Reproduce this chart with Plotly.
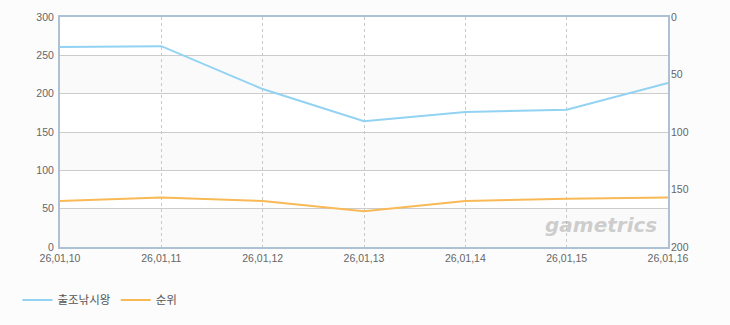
import plotly.graph_objects as go

dates = ["26,01,10", "26,01,11", "26,01,12", "26,01,13", "26,01,14", "26,01,15", "26,01,16"]
players = [261, 262, 206, 164, 176, 179, 214]
rank = [160, 157, 160, 169, 160, 158, 157]

left_ticks = [0, 50, 100, 150, 200, 250, 300]
right_ticks = [0, 50, 100, 150, 200]

fig = go.Figure()
fig.add_trace(go.Scatter(x=dates, y=players, name="출조낚시왕", mode="lines",
                         line=dict(color="#92d2f2", width=2), yaxis="y"))
fig.add_trace(go.Scatter(x=dates, y=rank, name="순위", mode="lines",
                         line=dict(color="#f9b956", width=2), yaxis="y2"))

# alternating background bands
for i in range(len(left_ticks) - 1):
    if i % 2 == 0:
        fig.add_shape(type="rect", xref="paper", yref="y", x0=0, x1=1,
                      y0=left_ticks[i], y1=left_ticks[i + 1],
                      fillcolor="#fafafa", line_width=0, layer="below")

fig.add_annotation(text="<b><i>gametrics</i></b>", xref="paper", yref="paper",
                   x=0.985, y=0.035, xanchor="right", yanchor="bottom", showarrow=False,
                   font=dict(family="DejaVu Sans", size=20, color="rgba(160,160,160,0.5)"))

tick_font = dict(family="Liberation Sans", size=10.5, color="#666666")
fig.update_layout(
    width=730, height=325,
    margin=dict(l=60, r=62, t=17, b=77),
    paper_bgcolor="#fcfcfc", plot_bgcolor="#ffffff",
    showlegend=True,
    legend=dict(orientation="h", x=-0.07, y=-0.225, xanchor="left", yanchor="middle",
                font=dict(family="Noto Sans CJK KR", size=11.5, color="#555555"),
                bgcolor="rgba(0,0,0,0)", itemwidth=30),
    xaxis=dict(type="category", range=[0, len(dates) - 1], showgrid=True,
               griddash="3px,3px", gridcolor="#c8c8c8", gridwidth=1,
               showline=True, linecolor="#adc0d4", linewidth=2, mirror=True,
               ticks="", tickfont=tick_font, zeroline=False, ticklabelstandoff=0),
    yaxis=dict(range=[0, 300], tickvals=left_ticks, showgrid=True,
               gridcolor="#cccccc", gridwidth=1, showline=True, linecolor="#adc0d4",
               linewidth=2, mirror=True, ticks="", tickfont=tick_font, zeroline=False,
               ticklabelstandoff=2),
    yaxis2=dict(range=[200, 0], tickvals=right_ticks, overlaying="y", side="right",
                showgrid=False, zeroline=False, ticks="", tickfont=tick_font,
                ticklabelstandoff=2),
)

fig.write_html("out.html")
